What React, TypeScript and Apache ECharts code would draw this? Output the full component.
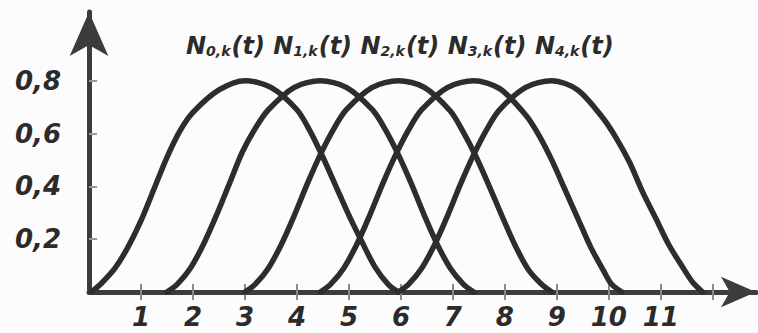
import React, { useEffect, useRef } from "react";
import * as echarts from "echarts";

// Basis functions N_{i,k}(t), i = 0..4: sample points [t, value]
const basisIndices = ["0", "1", "2", "3", "4"];

const n0T = [0.05, 0.25, 0.5, 0.75, 1.0, 1.25, 1.5, 1.75, 2.0, 2.5, 3.0, 3.5, 4.0, 4.25, 4.5, 4.75, 5.0, 5.25, 5.5, 5.75, 5.95];
const n0V = [0, 0.035, 0.09, 0.17, 0.27, 0.39, 0.51, 0.61, 0.68, 0.765, 0.8, 0.775, 0.69, 0.61, 0.51, 0.4, 0.29, 0.19, 0.095, 0.03, 0];

const n1T = [1.5, 1.7, 1.95, 2.2, 2.45, 2.7, 2.95, 3.2, 3.45, 3.95, 4.45, 4.95, 5.45, 5.7, 5.95, 6.2, 6.45, 6.7, 6.95, 7.2, 7.4];
const n1V = [0, 0.03, 0.09, 0.18, 0.29, 0.41, 0.53, 0.62, 0.69, 0.775, 0.8, 0.775, 0.69, 0.615, 0.52, 0.41, 0.29, 0.18, 0.09, 0.03, 0];

const n2T = [3.0, 3.2, 3.45, 3.7, 3.95, 4.2, 4.45, 4.7, 4.95, 5.45, 5.95, 6.45, 6.95, 7.2, 7.45, 7.7, 7.95, 8.2, 8.45, 8.7, 8.9];
const n2V = [0, 0.03, 0.09, 0.18, 0.29, 0.41, 0.52, 0.615, 0.69, 0.775, 0.8, 0.775, 0.685, 0.605, 0.51, 0.4, 0.285, 0.175, 0.085, 0.03, 0];

const n3T = [4.45, 4.65, 4.9, 5.15, 5.4, 5.65, 5.9, 6.15, 6.4, 6.9, 7.4, 7.9, 8.4, 8.65, 8.9, 9.15, 9.4, 9.65, 9.9, 10.05, 10.25];
const n3V = [0, 0.03, 0.09, 0.18, 0.29, 0.41, 0.52, 0.615, 0.69, 0.775, 0.8, 0.77, 0.67, 0.595, 0.5, 0.39, 0.28, 0.17, 0.08, 0.03, 0];

const n4T = [5.95, 6.15, 6.4, 6.65, 6.9, 7.15, 7.4, 7.65, 7.9, 8.4, 8.9, 9.4, 9.9, 10.15, 10.4, 10.65, 10.9, 11.15, 11.4, 11.6, 11.8];
const n4V = [0, 0.03, 0.09, 0.18, 0.29, 0.41, 0.52, 0.615, 0.69, 0.775, 0.8, 0.765, 0.655, 0.58, 0.49, 0.378, 0.28, 0.18, 0.1, 0.04, 0];

const curveTs = [n0T, n1T, n2T, n3T, n4T];
const curveVs = [n0V, n1V, n2V, n3V, n4V];

// Axis ticks and labels
const xTicks = [1, 2, 3, 4, 5, 6, 7, 8, 9, 10, 11, 12];
const xLabels = [1, 2, 3, 4, 5, 6, 7, 8, 9, 10, 11];
const yTicks = [0.2, 0.4, 0.6, 0.8];

const INK = "#2b2b2b";
const AXIS = "#3c3c3c";
const FONT = "DejaVu Sans";

export default function App() {
  const ref = useRef<HTMLDivElement>(null);

  useEffect(() => {
    if (!ref.current) return;
    const chart = echarts.init(ref.current, undefined, { renderer: "svg" });

    const series = curveTs.map((ts, i) => ({
      type: "line",
      name: `N${basisIndices[i]},k(t)`,
      data: ts.map((t, j) => [t, curveVs[i][j]]),
      smooth: 0.3,
      symbol: "none",
      lineStyle: { color: "#2d2d2d", width: 5.5, cap: "round", join: "round" },
      z: 3,
    }));

    const titleText = basisIndices
      .map((i) => `{n|N}{s|${i},k}{p|(t)}`)
      .join(" ");

    const boldItalic = {
      fontFamily: FONT,
      fontWeight: "bold",
      fontStyle: "italic",
      fill: INK,
      verticalAlign: "bottom",
    };

    chart.setOption({
      animation: false,
      backgroundColor: "#fcfcfc",
      grid: { left: 89, right: 2, top: 12, bottom: 41, containLabel: false },
      xAxis: [
        {
          type: "value",
          min: 0,
          max: 12.83,
          interval: 1,
          splitLine: { show: false },
          axisLine: {
            show: true,
            onZero: false,
            symbol: ["none", "arrow"],
            symbolSize: [23, 35],
            symbolOffset: [0, 0],
            lineStyle: { color: AXIS, width: 5 },
          },
          axisTick: {
            show: true,
            customValues: xTicks,
            length: 8,
            lineStyle: { color: "#8a8a8a", width: 2 },
          },
          axisLabel: {
            show: true,
            customValues: xLabels,
            margin: 12,
            color: INK,
            fontFamily: FONT,
            fontWeight: "bold",
            fontStyle: "italic",
            fontSize: 26,
          },
        },
        {
          type: "value",
          min: 0,
          max: 12.83,
          interval: 1,
          position: "bottom",
          splitLine: { show: false },
          axisLine: { show: false, onZero: false },
          axisTick: {
            show: true,
            inside: true,
            customValues: xTicks,
            length: 8,
            lineStyle: { color: "#8a8a8a", width: 2 },
          },
          axisLabel: { show: false },
        },
      ],
      yAxis: {
        type: "value",
        min: 0,
        max: 1.06,
        interval: 0.2,
        splitLine: { show: false },
        axisLine: {
          show: true,
          onZero: false,
          symbol: ["none", "arrow"],
          symbolSize: [29, 44],
          symbolOffset: [0, 0],
          lineStyle: { color: AXIS, width: 5 },
        },
        axisTick: {
          show: true,
          inside: true,
          customValues: yTicks,
          length: 8,
          lineStyle: { color: "#9a9a9a", width: 2 },
        },
        axisLabel: {
          show: true,
          customValues: yTicks,
          margin: 28,
          color: INK,
          fontFamily: FONT,
          fontWeight: "bold",
          fontStyle: "italic",
          fontSize: 26,
          formatter: (v: number) => v.toFixed(1).replace(".", ","),
        },
      },
      graphic: [
        {
          type: "text",
          left: 186,
          top: 34,
          z: 10,
          style: {
            text: titleText,
            fill: INK,
            font: `italic bold 24px "${FONT}"`,
            rich: {
              n: { ...boldItalic, fontSize: 24 },
              s: { ...boldItalic, fontSize: 14, padding: [0, 1, 0, 0] },
              p: { ...boldItalic, fontSize: 24 },
            },
          },
        },
      ],
      series,
    });

    return () => chart.dispose();
  }, []);

  return (
    <div
      ref={ref}
      style={{ position: "absolute", left: 0, top: 0, width: 758, height: 333 }}
    />
  );
}
